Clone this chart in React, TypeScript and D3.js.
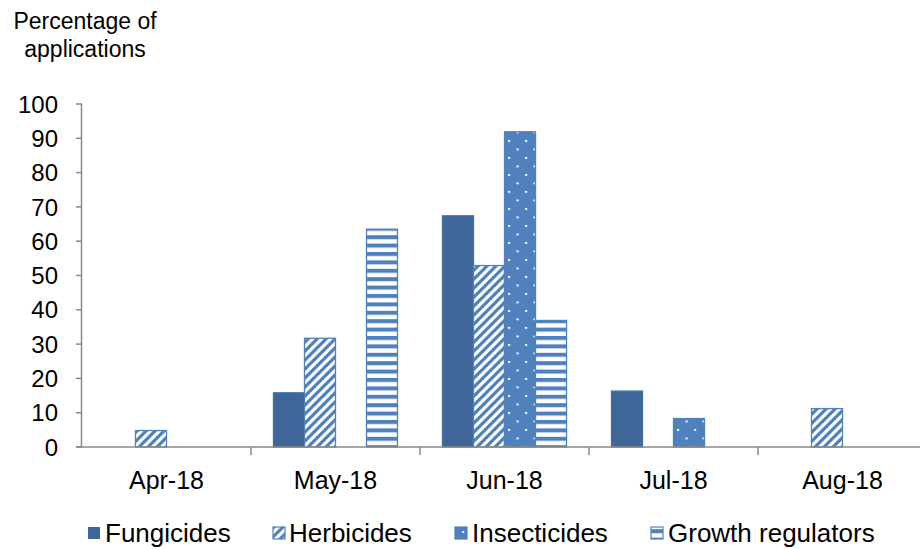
import React from "react";
import * as d3 from "d3";

const months = ["Apr-18", "May-18", "Jun-18", "Jul-18", "Aug-18"];
const seriesNames = ["Fungicides", "Herbicides", "Insecticides", "Growth regulators"];
const fungicides = [0, 15.8, 67.4, 16.3, 0];
const herbicides = [4.8, 31.7, 52.9, 0, 11.2];
const insecticides = [0, 0, 91.9, 8.3, 0];
const growthRegulators = [0, 63.5, 36.9, 0, 0];
const yTicks = [0, 10, 20, 30, 40, 50, 60, 70, 80, 90, 100];

const W = 920;
const H = 549;
const left = 82;
const right = 927;
const top = 104;
const bottom = 447;

const BLUE = "#4F81BD";
const DARK = "#3E6698";
const AXIS = "#898989";
const FONT = "Liberation Sans, Arial, sans-serif";

const fills = ["url(#solid)", "url(#diag)", "url(#dots)", "url(#hlines)"];

export default function App() {
  const values = [fungicides, herbicides, insecticides, growthRegulators];
  const x0 = d3.scaleBand<string>().domain(months).range([left, right]);
  const bw = x0.bandwidth();
  const gap = bw * 0.266;
  const x1 = d3.scaleBand<string>().domain(seriesNames).range([gap / 2, bw - gap / 2]);
  const y = d3.scaleLinear().domain([0, 100]).range([bottom, top]);

  const legendItems = [
    { name: "Fungicides", kx: 88, tx: 105 },
    { name: "Herbicides", kx: 273, tx: 289 },
    { name: "Insecticides", kx: 455, tx: 472 },
    { name: "Growth regulators", kx: 651, tx: 668 },
  ];

  return (
    <svg width={W} height={H} style={{ position: "absolute", left: 0, top: 0, background: "#fff" }}>
      <defs>
        <pattern id="solid" width="8" height="8" patternUnits="userSpaceOnUse">
          <rect width="8" height="8" fill={DARK} />
        </pattern>
        <pattern id="diag" width="9" height="9" patternUnits="userSpaceOnUse">
          <rect width="9" height="9" fill="#fff" />
          <path d="M-2,2 l4,-4 M0,9 l9,-9 M7,11 l4,-4" stroke={BLUE} strokeWidth="3.2" />
        </pattern>
        <pattern id="dots" width="17" height="17" patternUnits="userSpaceOnUse">
          <rect width="17" height="17" fill={BLUE} />
          <rect x="3" y="4" width="2.2" height="1.8" fill="#fff" />
          <rect x="11.5" y="12.5" width="2.2" height="1.8" fill="#fff" />
        </pattern>
        <pattern id="hlines" width="8" height="8.4" patternUnits="userSpaceOnUse">
          <rect width="8" height="8.4" fill="#fff" />
          <rect width="8" height="4" fill={BLUE} />
        </pattern>
      </defs>

      {/* axis title */}
      <text x={85} y={29} fontFamily={FONT} fontSize={23} textAnchor="middle" fill="#000">
        Percentage of
      </text>
      <text x={85} y={57} fontFamily={FONT} fontSize={23} textAnchor="middle" fill="#000">
        applications
      </text>

      {/* bars */}
      {months.map((m, i) => (
        <g key={m} transform={`translate(${x0(m)},0)`}>
          {seriesNames.map((s, j) => {
            const v = values[j][i];
            if (!v) return null;
            return (
              <rect
                key={s}
                x={x1(s)}
                y={y(v)}
                width={x1.bandwidth()}
                height={bottom - y(v)}
                fill={fills[j]}
                stroke={j === 0 ? "#4470A6" : BLUE}
                strokeWidth={1.3}
              />
            );
          })}
        </g>
      ))}

      {/* y axis */}
      <line x1={left - 0.5} x2={left - 0.5} y1={top} y2={bottom} stroke={AXIS} strokeWidth={1.5} />
      {yTicks.map((t) => (
        <g key={t}>
          <line x1={left - 6} x2={left} y1={y(t)} y2={y(t)} stroke={AXIS} strokeWidth={1.5} />
          <text
            x={58}
            y={y(t)}
            dy="0.36em"
            fontFamily={FONT}
            fontSize={24}
            textAnchor="end"
            fill="#000"
          >
            {t}
          </text>
        </g>
      ))}

      {/* x axis */}
      <line x1={left - 6} x2={W} y1={bottom} y2={bottom} stroke={AXIS} strokeWidth={1.5} />
      {months.map((m, i) => (
        <g key={m}>
          {i > 0 && (
            <line x1={x0(m)!} x2={x0(m)!} y1={bottom} y2={bottom + 8} stroke={AXIS} strokeWidth={1.5} />
          )}
          <text
            x={x0(m)! + bw / 2}
            y={489}
            fontFamily={FONT}
            fontSize={25}
            textAnchor="middle"
            fill="#000"
          >
            {m}
          </text>
        </g>
      ))}

      {/* legend */}
      {legendItems.map((it, j) => (
        <g key={it.name}>
          <rect
            x={it.kx}
            y={527}
            width={12}
            height={12}
            fill={fills[j]}
            stroke={j === 0 ? "none" : BLUE}
            strokeWidth={1.2}
          />
          <text x={it.tx} y={542} fontFamily={FONT} fontSize={26} fill="#000">
            {it.name}
          </text>
        </g>
      ))}
    </svg>
  );
}
